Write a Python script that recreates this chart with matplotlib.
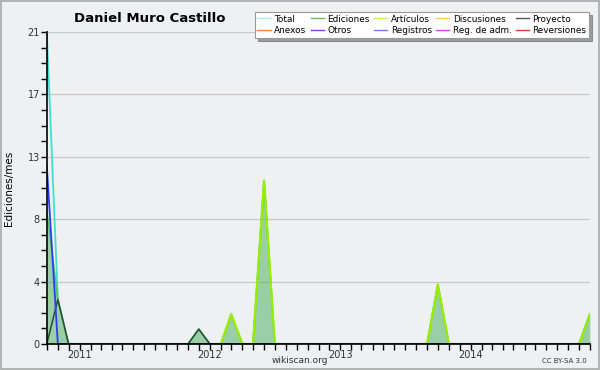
import matplotlib
matplotlib.use("Agg")
import matplotlib.pyplot as plt
import matplotlib.dates as mdates
from matplotlib.ticker import MultipleLocator, FixedLocator
import pandas as pd

# monthly points, Oct 2010 .. Dec 2014
months = pd.date_range("2010-10-01", "2014-12-01", freq="MS")

total = [21, 3, 0, 0, 0, 0, 0, 0, 0, 0, 0, 0, 0, 0, 1, 0, 0, 2, 0, 0, 11, 0, 0, 0, 0,
         0, 0, 0, 0, 0, 0, 0, 0, 0, 0, 0, 4, 0, 0, 0, 0, 0, 0, 0, 0, 0, 0, 0, 0, 0, 2]
ediciones = [9, 3, 0, 0, 0, 0, 0, 0, 0, 0, 0, 0, 0, 0, 1, 0, 0, 2, 0, 0, 11, 0, 0, 0, 0,
             0, 0, 0, 0, 0, 0, 0, 0, 0, 0, 0, 4, 0, 0, 0, 0, 0, 0, 0, 0, 0, 0, 0, 0, 0, 2]
articulos = [0, 0, 0, 0, 0, 0, 0, 0, 0, 0, 0, 0, 0, 0, 0, 0, 0, 2, 0, 0, 11, 0, 0, 0, 0,
             0, 0, 0, 0, 0, 0, 0, 0, 0, 0, 0, 4, 0, 0, 0, 0, 0, 0, 0, 0, 0, 0, 0, 0, 0, 2]
proyecto = [0, 3, 0, 0, 0, 0, 0, 0, 0, 0, 0, 0, 0, 0, 1, 0, 0, 0, 0, 0, 0, 0, 0, 0, 0,
            0, 0, 0, 0, 0, 0, 0, 0, 0, 0, 0, 0, 0, 0, 0, 0, 0, 0, 0, 0, 0, 0, 0, 0, 0, 0]
registros = [12, 0, 0, 0, 0, 0, 0, 0, 0, 0, 0, 0, 0, 0, 0, 0, 0, 0, 0, 0, 0, 0, 0, 0, 0,
             0, 0, 0, 0, 0, 0, 0, 0, 0, 0, 0, 0, 0, 0, 0, 0, 0, 0, 0, 0, 0, 0, 0, 0, 0, 0]

y_ticks = [0, 4.2, 8.4, 12.6, 16.8, 21]
y_labels = ["0", "4", "8", "13", "17", "21"]

legend_names = ["Total", "Anexos", "Ediciones", "Otros", "Artículos", "Registros",
                "Discusiones", "Reg. de adm.", "Proyecto", "Reversiones"]
legend_colors = ["#a8ecec", "#ff8040", "#66bb66", "#9933ee", "#ccee55", "#7777ff",
                 "#ffcc55", "#dd44dd", "#555555", "#ee3333"]

bg = "#eff0f1"
plt.rcParams["font.family"] = "DejaVu Sans"

fig = plt.figure(figsize=(6, 3.7), dpi=100, facecolor=bg)
fig.patches.append(plt.Rectangle((0.001, 0.002), 0.997, 0.995, transform=fig.transFigure,
                                 fill=False, edgecolor="#a8a8a8", lw=1.2))
ax = fig.add_axes([0.078, 0.0703, 0.905, 0.8432], facecolor=bg)

ax.plot(months, total, color="#40e0d0", lw=1.3, zorder=2)
ax.fill_between(months, ediciones, 0, color="#55b26a", alpha=0.55, lw=0, zorder=3)
ax.plot(months, ediciones, color="#5cc05c", lw=1.1, zorder=4)
ax.plot(months, articulos, color="#99ee00", lw=1.6, zorder=5)
ax.plot(months, proyecto, color="#2d4a35", lw=1.1, zorder=5)
ax.plot(months, registros, color="#2a3cff", lw=1.3, zorder=6)

ax.set_xlim(months[0], months[-1])
ax.set_ylim(0, 21)
ax.yaxis.set_major_locator(FixedLocator(y_ticks))
ax.set_yticklabels(y_labels)
ax.yaxis.set_minor_locator(MultipleLocator(1.05))
ax.xaxis.set_major_locator(mdates.YearLocator())
ax.xaxis.set_major_formatter(mdates.DateFormatter("%Y"))
ax.xaxis.set_minor_locator(mdates.MonthLocator())
ax.grid(axis="y", color="#c8c8c8", lw=0.9)
ax.set_axisbelow(True)
for s in ["top", "right"]:
    ax.spines[s].set_visible(False)
for s in ["left", "bottom"]:
    ax.spines[s].set_linewidth(1.2)
    ax.spines[s].set_zorder(10)
ax.tick_params(axis="both", which="both", length=4, width=1, labelsize=7, colors="#333333",
               pad=1)
ax.tick_params(axis="x", which="both", pad=0)
ax.tick_params(axis="both", which="both", color="black")
ax.set_ylabel("Ediciones/mes", fontsize=7.5, labelpad=10)

# legend (entries only, lines off-screen)
handles = [plt.Line2D([], [], color=c, lw=1) for c in legend_colors]
leg = fig.legend(handles, legend_names, loc="upper right", bbox_to_anchor=(0.982, 0.968),
                 ncol=5, fontsize=6.4, frameon=True, fancybox=False, shadow=True,
                 handlelength=1.5, handletextpad=0.4, columnspacing=0.45, labelspacing=0.3,
                 borderpad=0.3, borderaxespad=0)
leg.get_frame().set_edgecolor("#999999")
leg.get_frame().set_linewidth(0.8)

fig.text(0.25, 0.95, "Daniel Muro Castillo", fontsize=9.5, fontweight="bold",
         ha="center", va="center")
fig.text(0.5, 0.027, "wikiscan.org", fontsize=6.5, color="#333333", ha="center", va="center")
fig.text(0.978, 0.024, "CC BY-SA 3.0", fontsize=5, color="#333333", ha="right", va="center")

fig.savefig("out.png", dpi=100, facecolor=bg)
